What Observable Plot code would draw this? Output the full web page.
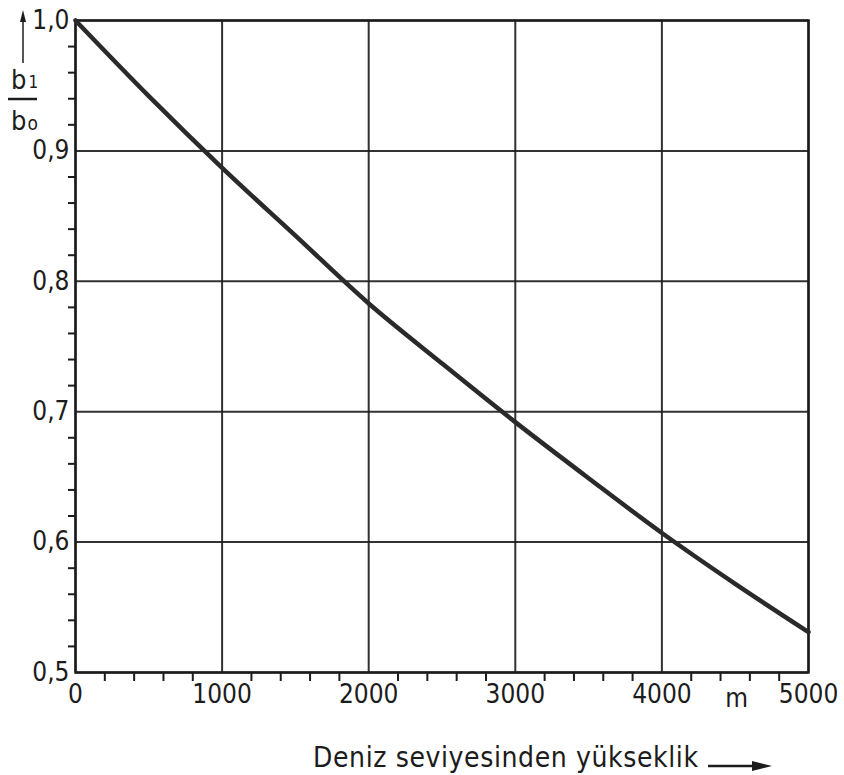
<!DOCTYPE html>
<html>
<head>
<meta charset="utf-8">
<script src="https://cdn.jsdelivr.net/npm/d3@7"></script>
<script src="https://cdn.jsdelivr.net/npm/@observablehq/plot@0.6"></script>
<style>
  html, body { margin: 0; padding: 0; background: #fff; }
  #chart svg { display: block; }
</style>
</head>
<body>
<div id="chart"></div>
<script>
// Data
const altitude = [0, 500, 1000, 1500, 2000, 2500, 3000, 3500, 4000, 4500, 5000];
const ratio    = [1.0, 0.942, 0.887, 0.835, 0.783, 0.737, 0.692, 0.649, 0.607, 0.568, 0.531];
const xMajor = [0, 1000, 2000, 3000, 4000, 5000];
const xMinor = d3.range(0, 5001, 200).filter(v => v % 1000 !== 0);
const yMajor = [0.5, 0.6, 0.7, 0.8, 0.9, 1.0];
const yMinor = d3.range(50, 101, 2).map(v => v / 100).filter(v => Math.round(v * 100) % 10 !== 0);
const xTitle = "Deniz seviyesinden yükseklik";
const unitLabel = "m";

const data = altitude.map((a, i) => ({ altitude: a, ratio: ratio[i] }));
const font = "'DejaVu Sans Condensed', 'Liberation Sans Narrow', 'DejaVu Sans', sans-serif";
const ink = "#1c1c1c";

const W = 844, H = 775, mL = 75, mR = 36, mT = 20, mB = 103;

const chart = Plot.plot({
  width: W, height: H,
  marginLeft: mL, marginRight: mR, marginTop: mT, marginBottom: mB,
  x: { domain: [0, 5000], label: null },
  y: { domain: [0.5, 1.0], label: null },
  style: { fontFamily: font, background: "#fff", color: ink },
  marks: [
    Plot.gridX(xMajor, { stroke: ink, strokeOpacity: 0.9, strokeWidth: 2 }),
    Plot.gridY(yMajor, { stroke: ink, strokeOpacity: 0.9, strokeWidth: 2 }),
    Plot.frame({ stroke: ink, strokeWidth: 2.5 }),
    Plot.axisX(xMinor, { tickSize: 9, strokeWidth: 2, tickFormat: () => "", stroke: ink }),
    Plot.axisX(xMajor, { tickSize: 0, tickPadding: 12, fontSize: 26, fill: ink, tickFormat: d => String(d) }),
    Plot.axisY(yMinor, { tickSize: 7, strokeWidth: 2, tickFormat: () => "", stroke: ink }),
    Plot.axisY(yMajor, { tickSize: 0, tickPadding: 6, fontSize: 26, fill: ink,
      tickFormat: d => d.toFixed(1).replace(".", ",") }),
    Plot.line(data, { x: "altitude", y: "ratio", stroke: "#2a2a2a", strokeWidth: 4.5, curve: "catmull-rom" }),
    Plot.text([unitLabel], { x: () => 4510, y: () => 0.5, dy: 26, fontSize: 26, fill: ink, textAnchor: "middle" })
  ]
});

const svg = d3.select(chart);

// x-axis title with arrow
svg.append("text")
  .attr("x", 313).attr("y", 767)
  .attr("text-anchor", "start")
  .attr("font-family", font).attr("font-size", 28)
  .attr("textLength", 385).attr("lengthAdjust", "spacing")
  .attr("fill", ink)
  .text(xTitle);
svg.append("line").attr("x1", 708).attr("x2", 758).attr("y1", 766).attr("y2", 766)
  .attr("stroke", ink).attr("stroke-width", 2.5);
svg.append("path").attr("d", "M752,761 L772,766 L752,771 Z").attr("fill", ink);

// y-axis label: b1 / b0 with upward arrow
svg.append("line").attr("x1", 23).attr("x2", 23).attr("y1", 18).attr("y2", 63)
  .attr("stroke", ink).attr("stroke-width", 1.5);
svg.append("path").attr("d", "M20,22 L23,10 L26,22 Z").attr("fill", ink);
const t1 = svg.append("text").attr("x", 11).attr("y", 89).attr("text-anchor", "start")
  .attr("font-family", font).attr("font-size", 27).attr("fill", ink);
t1.append("tspan").text("b");
t1.append("tspan").attr("font-size", 17).attr("dx", 2).attr("dy", -1).text("1");
svg.append("line").attr("x1", 8).attr("x2", 37).attr("y1", 99).attr("y2", 99)
  .attr("stroke", ink).attr("stroke-width", 2.5);
const t0 = svg.append("text").attr("x", 11).attr("y", 130).attr("text-anchor", "start")
  .attr("font-family", font).attr("font-size", 27).attr("fill", ink);
t0.append("tspan").text("b");
t0.append("tspan").attr("font-size", 19).attr("dx", 1).text("o");

document.getElementById("chart").appendChild(chart);
</script>
</body>
</html>
